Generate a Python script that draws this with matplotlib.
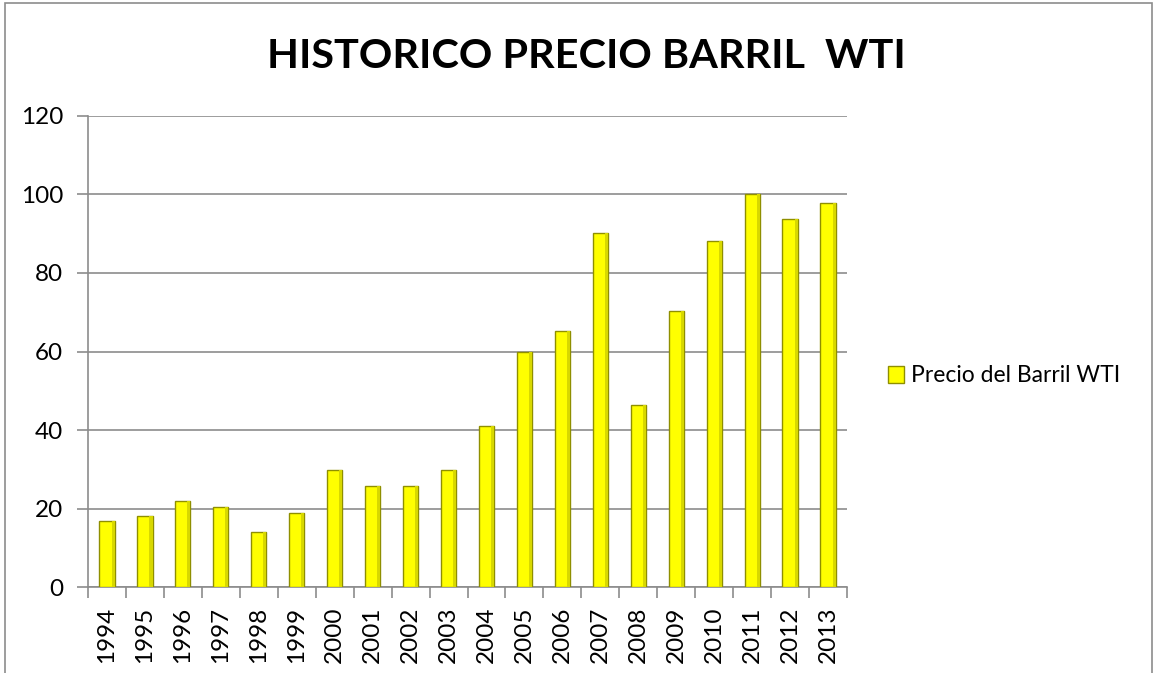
import matplotlib
matplotlib.use("Agg")
import matplotlib.pyplot as plt
from matplotlib.patches import Rectangle
import numpy as np

years = ["1994", "1995", "1996", "1997", "1998", "1999", "2000", "2001", "2002", "2003",
         "2004", "2005", "2006", "2007", "2008", "2009", "2010", "2011", "2012", "2013"]
precio = [16.8, 18.1, 22.0, 20.4, 14.1, 18.9, 29.8, 25.8, 25.9, 29.8,
          41.1, 59.8, 65.1, 90.1, 46.5, 70.3, 88.0, 100.2, 93.8, 97.7]
yticks = [0, 20, 40, 60, 80, 100, 120]
title = "HISTORICO PRECIO BARRIL  WTI"
series_name = "Precio del Barril WTI"

plt.rcParams['font.family'] = ['Lato', 'DejaVu Sans']

fig = plt.figure(figsize=(11.57, 6.73), dpi=100)
fig.patch.set_facecolor('white')

# outer chart border
fig.patches.append(Rectangle((5 / 1157, -0.05), (1152 - 5) / 1157, (673 - 3) / 673 + 0.05,
                             transform=fig.transFigure, fill=False,
                             edgecolor='#8c8c8c', linewidth=1.2))

ax = fig.add_axes([88 / 1157, 85.7 / 673, (847 - 88) / 1157, (587.3 - 115.7) / 673])
x = np.arange(len(years))
bars = ax.bar(x, precio, width=0.4, color='#FFFF00', edgecolor='#8f8f00',
              linewidth=1.0, zorder=3, label=series_name)
# subtle darker side to mimic bevel
ax.bar(x + 0.16, precio, width=0.08, color='#d8d800', edgecolor='none', zorder=4)

ax.set_xlim(-0.5, len(years) - 0.5)
ax.set_ylim(0, 120)
ax.set_yticks(yticks)
ax.set_yticklabels([str(v) for v in yticks], fontsize=17.5)
ax.set_xticks(x)
ax.set_xticklabels(years, rotation=90, fontsize=17.5)
ax.tick_params(axis='x', which='major', length=0, pad=14)
ax.set_xticks(np.arange(-0.5, len(years), 1.0), minor=True)
ax.tick_params(axis='x', which='minor', length=8, width=1.2, color='#8c8c8c', direction='out')
ax.tick_params(axis='y', length=8, width=1.2, color='#8c8c8c', direction='out', pad=10)

ax.grid(axis='y', color='#8c8c8c', linewidth=1.2, zorder=0)
ax.set_axisbelow(True)
for s in ['top', 'right']:
    ax.spines[s].set_visible(False)
for s in ['left', 'bottom']:
    ax.spines[s].set_color('#8c8c8c')
    ax.spines[s].set_linewidth(1.2)

fig.text(586 / 1157, 1 - 56 / 673, title, ha='center', va='center',
         fontsize=29.8, fontweight='bold')

leg = fig.legend(handles=[bars], labels=[series_name], loc='center left',
                 bbox_to_anchor=(867 / 1157, 1 - 376 / 673), frameon=False,
                 fontsize=16.5, handlelength=0.7, handleheight=0.7, handletextpad=0.3)

fig.savefig("out.png", dpi=100, facecolor='white')
